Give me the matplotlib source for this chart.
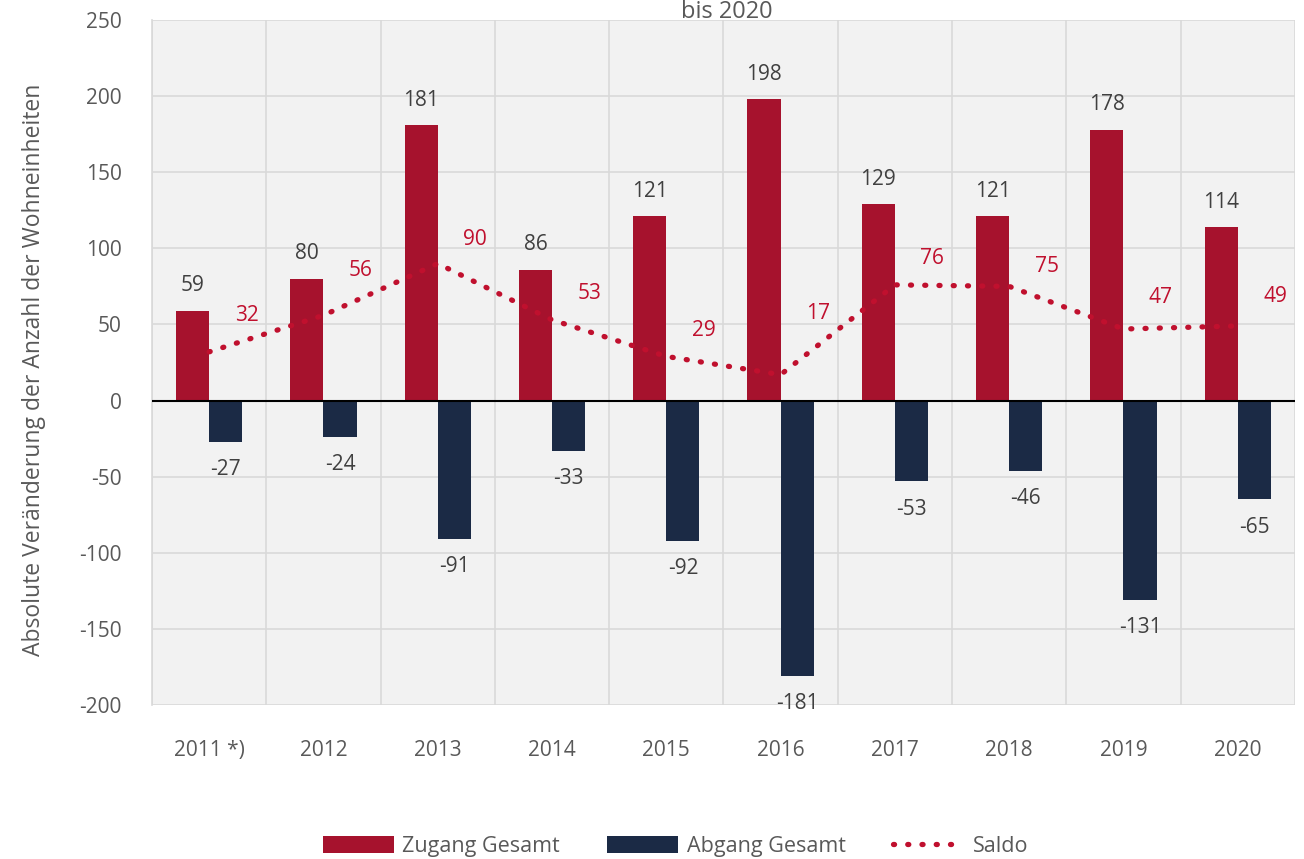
import matplotlib.pyplot as plt
import numpy as np

jahre = ["2011 *)", "2012", "2013", "2014", "2015", "2016", "2017", "2018", "2019", "2020"]
zugang = [59, 80, 181, 86, 121, 198, 129, 121, 178, 114]
abgang = [-27, -24, -91, -33, -92, -181, -53, -46, -131, -65]
saldo = [32, 56, 90, 53, 29, 17, 76, 75, 47, 49]

# Verschiebung der Saldo-Beschriftungen nach oben (in Punkt)
saldo_dy = [26, 32, 17, 19, 19, 44, 19, 14, 23, 21]

rot = "#a6122d"
blau = "#1b2a45"
saldo_farbe = "#c0102e"
grau_text = "#595959"

plt.rcParams['font.family'] = ['Open Sans', 'DejaVu Sans']
plt.rcParams['axes.unicode_minus'] = False

fig = plt.figure(figsize=(13.04, 8.59), dpi=100)
ax = fig.add_axes([0.1166, 0.1793, 0.8764, 0.7974])
ax.set_facecolor("#f2f2f2")

x = np.arange(len(jahre))
breite = 0.29

h1 = ax.bar(x - breite / 2, zugang, breite, color=rot, label="Zugang Gesamt", zorder=3)
h2 = ax.bar(x + breite / 2, abgang, breite, color=blau, label="Abgang Gesamt", zorder=3)
h3, = ax.plot(x, saldo, color=saldo_farbe, linewidth=3.8, linestyle=(0, (0.2, 2.5)),
              dash_capstyle="round", label="Saldo", zorder=4)

ax.axhline(0, color="black", linewidth=1.5, zorder=5)

# Beschriftungen
for i in range(len(jahre)):
    ax.annotate(str(zugang[i]), (x[i] - breite / 2, zugang[i]), xytext=(0, 18),
                textcoords="offset points", ha="center", va="center",
                fontsize=15, color="#404040")
    ax.annotate(str(abgang[i]), (x[i] + breite / 2, abgang[i]), xytext=(0, -20),
                textcoords="offset points", ha="center", va="center",
                fontsize=15, color="#404040")
    ax.annotate(str(saldo[i]), (x[i], saldo[i]), xytext=(27, saldo_dy[i]),
                textcoords="offset points", ha="center", va="center",
                fontsize=15, color=saldo_farbe)

ax.set_xlim(-0.5, len(jahre) - 0.5)
ax.set_ylim(-200, 250)
ax.set_yticks(np.arange(-200, 251, 50))
ax.set_xticks(x)
ax.set_xticklabels(jahre)
ax.set_xticks(np.arange(-0.5, len(jahre), 1), minor=True)

ax.grid(which="major", axis="y", color="#d9d9d9", linewidth=1.2, zorder=0)
ax.grid(which="minor", axis="x", color="#d9d9d9", linewidth=1.2, zorder=0)
ax.tick_params(axis="both", which="both", length=0, labelsize=15, colors=grau_text)
ax.tick_params(axis="x", pad=25)
ax.tick_params(axis="y", pad=22)

for s in ["top", "right", "bottom"]:
    ax.spines[s].set_visible(False)
ax.spines["left"].set_color("#d9d9d9")
ax.spines["left"].set_linewidth(1.2)

ax.set_ylabel("Absolute Veränderung der Anzahl der Wohneinheiten",
              fontsize=16.5, color=grau_text)
ax.yaxis.set_label_coords(-0.093, 0.49)

fig.text(0.557, 1.0, "bis 2020", ha="center", va="top", fontsize=17, color=grau_text)

fig.legend(handles=[h1, h2, h3], loc="lower center", bbox_to_anchor=(0.518, -0.02),
           ncol=3, frameon=False, fontsize=15.5, labelcolor=grau_text,
           handlelength=3.3, handleheight=0.8, columnspacing=2.2, handletextpad=0.4)

plt.savefig("out.png", dpi=100)
